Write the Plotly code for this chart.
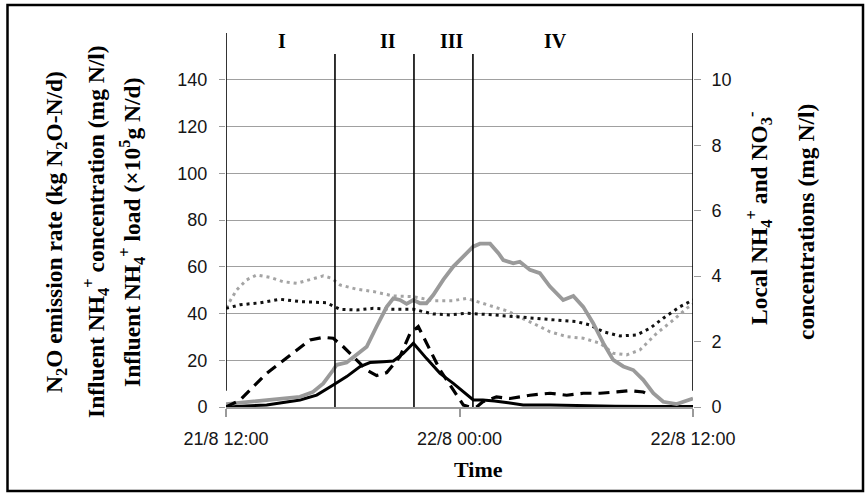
import pandas as pd
import plotly.graph_objects as go

# ---------------- data (hours after 21/8 12:00) ----------------
base = pd.Timestamp("2013-08-21 12:00")

# Local NH4+ (right axis, mg N/l) - grey solid
nh4_local_t = [0, 1.23, 2.77, 3.8, 4.47, 5.0, 5.51, 5.69, 6.2, 6.72, 7.23, 7.74, 8.26, 8.6, 8.94, 9.28,
               9.63, 9.97, 10.3, 10.65, 11.17, 11.68, 12.2, 12.7, 13.05, 13.57, 14.0, 14.25, 14.76, 15.1,
               15.62, 16.13, 16.65, 17.33, 17.85, 18.36, 18.87, 19.39, 19.9, 20.42, 20.93, 21.44, 21.96,
               22.47, 23.16, 23.67, 24.0]
nh4_local_v = [0.09, 0.16, 0.24, 0.31, 0.46, 0.72, 1.13, 1.29, 1.36, 1.59, 1.84, 2.46, 3.06, 3.32, 3.27, 3.15,
               3.27, 3.17, 3.17, 3.42, 3.89, 4.29, 4.59, 4.90, 4.99, 4.99, 4.70, 4.49, 4.39, 4.44,
               4.19, 4.09, 3.68, 3.27, 3.39, 3.06, 2.56, 1.95, 1.44, 1.24, 1.13, 0.83, 0.42,
               0.16, 0.09, 0.19, 0.26]

# Local NO3- (right axis, mg N/l) - black dashed
no3_local_t = [0, 0.72, 1.4, 2.09, 2.77, 3.63, 4.32, 5.0, 5.51, 6.03, 6.72, 7.23, 7.74, 8.26, 8.94, 9.46,
               9.88, 10.3, 11.0, 11.68, 12.2, 12.54, 12.9, 13.2, 13.9, 14.6, 15.62, 16.65, 17.51, 18.36,
               19.22, 20.08, 20.76, 21.44, 21.79]
no3_local_v = [0, 0.21, 0.62, 1.03, 1.34, 1.74, 2.05, 2.13, 2.10, 1.84, 1.44, 1.13, 0.96, 1.05, 1.54, 2.25,
               2.46, 1.95, 1.13, 0.52, 0.06, 0, 0.01, 0.16, 0.31, 0.26, 0.36, 0.42, 0.36, 0.42,
               0.42, 0.46, 0.50, 0.46, 0.36]

# N2O emission rate (left axis, kg N2O-N/d) - black solid
n2o_t = [0, 2.09, 3.8, 4.66, 5.51, 6.2, 6.89, 7.4, 8.08, 8.6, 9.11, 9.63, 10.3, 11.0, 11.68, 12.37,
         12.71, 13.2, 13.8, 14.5, 15.27, 16.65, 18.36, 20, 22, 24]
n2o_v = [0, 0.9, 3, 5.1, 9.4, 13, 17.3, 19, 19.4, 19.7, 22.9, 27.3, 20.8, 14.4, 10.1, 5.1,
         3, 3, 2.6, 1.8, 0.9, 0.9, 0.5, 0.3, 0.2, 0.2]

# Influent NH4+ concentration (left axis, mg N/l) - black dotted
inf_conc_t = [0, 0.72, 1.75, 2.77, 3.8, 5.17, 5.86, 6.72, 7.57, 8.6, 9.63, 10.65, 11.51, 12.37, 13.74,
              15.28, 16.65, 18.02, 18.7, 19.39, 20.25, 21.1, 21.79, 22.47, 23.33, 24]
inf_conc_v = [42.2, 43.7, 44.6, 46.1, 45.1, 44.6, 41.8, 41.5, 42.2, 41.8, 41.8, 39.8, 39.4, 40.1, 39.4,
              38.4, 37.2, 36.5, 35.1, 32.2, 30.4, 30.8, 33.7, 38.0, 42.9, 45.8]

# Influent NH4+ load (left axis, x10^5 g N/d) - grey dotted
inf_load_t = [0, 0.55, 1.06, 1.58, 2.26, 2.94, 3.63, 4.32, 5.0, 5.43, 5.86, 6.72, 7.57, 8.6, 9.63, 10.65,
              11.68, 12.37, 13.2, 13.9, 14.5, 15.0, 15.79, 16.65, 17.51, 18.36, 19.22, 19.9, 20.59, 21.27,
              22.13, 22.99, 23.67, 24]
inf_load_v = [42.5, 50.1, 54.4, 56.5, 55.5, 53.6, 52.9, 54.4, 56.1, 55.1, 52.2, 50.4, 49.4, 47.5, 47.2, 45.5,
              45.5, 46.5, 44.5, 42.5, 41.0, 38.7, 35.8, 32.2, 30.1, 29.4, 27.3, 23.0, 22.3, 24.4,
              31.5, 37.2, 42.2, 44.1]

# phase boundaries (hours) and labels
phase_t = [0, 5.6, 9.66, 12.69, 24]
phase_labels = ["I", "II", "III", "IV"]
phase_label_t = [2.9, 8.3, 11.6, 16.95]

x_tick_t = [0, 12, 24]
x_tick_text = ["21/8 12:00", "22/8 00:00", "22/8 12:00"]
left_ticks = [0, 20, 40, 60, 80, 100, 120, 140]
right_ticks = [0, 2, 4, 6, 8, 10]


def tx(hours):
    return [base + pd.Timedelta(hours=h) for h in hours]


SERIF = "Liberation Serif, Times New Roman, serif"
SANS = "Liberation Sans, Arial, sans-serif"

fig = go.Figure()
fig.add_trace(go.Scatter(x=tx(inf_load_t), y=inf_load_v, mode="lines",
                         line=dict(color="#a4a4a4", width=3, dash="3px,4px")))
fig.add_trace(go.Scatter(x=tx(inf_conc_t), y=inf_conc_v, mode="lines",
                         line=dict(color="#111111", width=3, dash="3px,4px")))
fig.add_trace(go.Scatter(x=tx(nh4_local_t), y=nh4_local_v, mode="lines", yaxis="y2",
                         line=dict(color="#9a9a9a", width=3.8)))
fig.add_trace(go.Scatter(x=tx(no3_local_t), y=no3_local_v, mode="lines", yaxis="y2",
                         line=dict(color="#000000", width=3.2, dash="11px,7px")))
fig.add_trace(go.Scatter(x=tx(n2o_t), y=n2o_v, mode="lines",
                         line=dict(color="#000000", width=3)))

# plot area geometry (pixels)
L, R, T, B = 226, 693, 33, 407
W, H = R - L, B - T


def px(xp):
    return (xp - L) / W


def py(yp):
    return (B - yp) / H


shapes = []
# phase lines
for i, h in enumerate(phase_t):
    top = 160 if i in (0, len(phase_t) - 1) else 151
    bot = 7 if i in (0, len(phase_t) - 1) else 0
    shapes.append(dict(type="line", xref="x", yref="y", x0=tx([h])[0], x1=tx([h])[0], y0=bot, y1=top,
                       line=dict(color="black", width=1.6), layer="above"))
# outer frame
shapes.append(dict(type="rect", xref="paper", yref="paper", x0=px(7.5), x1=px(863), y0=py(491), y1=py(5),
                   line=dict(color="black", width=2.5)))

annotations = []
for lab, h in zip(phase_labels, phase_label_t):
    annotations.append(dict(x=tx([h])[0], xref="x", y=py(41), yref="paper", text="<b>" + lab + "</b>",
                            showarrow=False, font=dict(family=SERIF, size=20, color="black"),
                            xanchor="center", yanchor="middle"))

left_titles = [
    ("<b>N<sub>2</sub>O emission rate (kg N<sub>2</sub>O-N/d)</b>", 56),
    ("<b>Influent NH<sub>4</sub><sup>+</sup> concentration (mg N/l)</b>", 96),
    ("<b>Influent NH<sub>4</sub><sup>+</sup> load (×10<sup>5</sup>g N/d)</b>", 132),
]
for txt, xp in left_titles:
    annotations.append(dict(x=px(xp), y=py(232), xref="paper", yref="paper", text=txt, textangle=-90,
                            showarrow=False, font=dict(family=SERIF, size=23.5, color="black"),
                            xanchor="center", yanchor="middle"))
right_titles = [
    ("<b>Local NH<sub>4</sub><sup>+</sup> and NO<sub>3</sub><sup>-</sup></b>", 759, 219),
    ("<b>concentrations (mg N/l)</b>", 806, 222),
]
for txt, xp, yp in right_titles:
    annotations.append(dict(x=px(xp), y=py(yp), xref="paper", yref="paper", text=txt, textangle=-90,
                            showarrow=False, font=dict(family=SERIF, size=23.5, color="black"),
                            xanchor="center", yanchor="middle"))
annotations.append(dict(x=px(478), y=py(469), xref="paper", yref="paper", text="<b>Time</b>",
                        showarrow=False, font=dict(family=SERIF, size=22, color="black"),
                        xanchor="center", yanchor="middle"))

tickfont = dict(family=SANS, size=18, color="#151515")
fig.update_layout(
    width=867, height=495, autosize=False,
    margin=dict(l=L, r=867 - R, t=T, b=495 - B, pad=0),
    paper_bgcolor="white", plot_bgcolor="white",
    showlegend=False,
    shapes=shapes, annotations=annotations,
    xaxis=dict(type="date", range=[base, base + pd.Timedelta(hours=24)],
               tickvals=tx(x_tick_t), ticktext=x_tick_text,
               showgrid=False, zeroline=False, showline=True, linecolor="#9a9a9a", linewidth=1.5,
               ticks="outside", ticklen=8, tickcolor="#9a9a9a", tickwidth=1.5,
               ticklabelstandoff=7, tickfont=tickfont),
    yaxis=dict(range=[0, 160], tickvals=left_ticks, showgrid=True, gridcolor="#a0a0a0", gridwidth=1.4,
               zeroline=False, showline=False, ticks="outside", ticklen=6, tickcolor="#9a9a9a",
               tickwidth=1.4, ticklabelstandoff=8, tickfont=tickfont),
    yaxis2=dict(range=[0, 160 / 14], tickvals=right_ticks, overlaying="y", side="right",
                showgrid=False, zeroline=False, showline=False, ticks="outside", ticklen=7,
                tickcolor="#9a9a9a", tickwidth=1.4, ticklabelstandoff=7, tickfont=tickfont),
)

fig.write_html("out.html")
